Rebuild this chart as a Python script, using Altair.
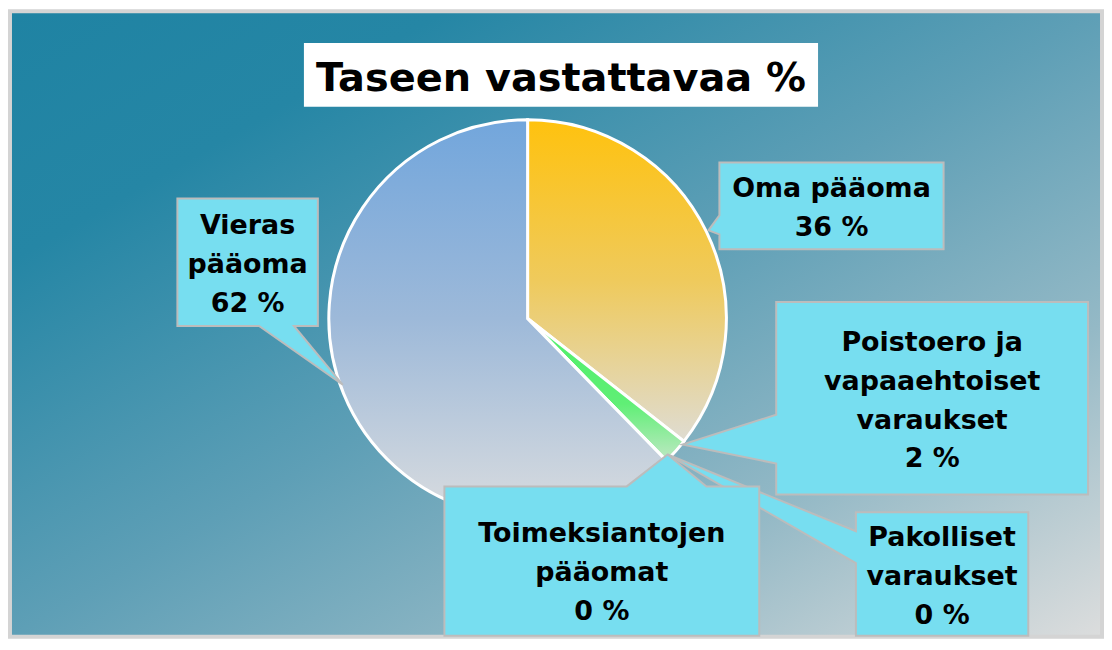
import altair as alt
import pandas as pd

# ---- data -------------------------------------------------------------
categories = ["Oma pääoma", "Poistoero ja vapaaehtoiset varaukset",
              "Pakolliset varaukset", "Toimeksiantojen pääomat", "Vieras pääoma"]
values = [35.6, 2.1, 0.0, 0.0, 62.3]
label_lines = [["Oma pääoma"],
               ["Poistoero ja", "vapaaehtoiset", "varaukset"],
               ["Pakolliset", "varaukset"],
               ["Toimeksiantojen", "pääomat"],
               ["Vieras", "pääoma"]]
title_text = "Taseen vastattavaa %"

# ---- layout (chart pixels) --------------------------------------------
W, H = 1096, 628
CX, CY, R = 519.5, 308.5, 199.5
FONT = "DejaVu Sans"
LINE_H = 39

# callout boxes: box (x0, y0, x1, y1), pointer side, base (a, b), tip (x, y)
callouts = {
    "Pakolliset varaukset": dict(box=(849, 503, 1022, 627), side="left", base=(522, 554), tip=(660, 445)),
    "Toimeksiantojen pääomat": dict(box=(436, 477, 752, 627), side="top", base=(619, 699), tip=(660, 445)),
    "Poistoero ja vapaaehtoiset varaukset": dict(box=(769, 292, 1082, 485), side="left", base=(405, 454), tip=(675, 435)),
    "Oma pääoma": dict(box=(712, 152, 937, 239), side="left", base=(205, 224), tip=(701, 220)),
    "Vieras pääoma": dict(box=(168, 188, 309, 316), side="bottom", base=(250, 285), tip=(334, 375)),
}
text_centers = {
    "Toimeksiantojen pääomat": (594, 561),
}


def callout_path(c):
    x0, y0, x1, y1 = c["box"]
    a, b = c["base"]
    tx, ty = c["tip"]
    if c["side"] == "left":
        pts = [(x0, y0), (x1, y0), (x1, y1), (x0, y1), (x0, b), (tx, ty), (x0, a)]
    elif c["side"] == "top":
        pts = [(x0, y0), (a, y0), (tx, ty), (b, y0), (x1, y0), (x1, y1), (x0, y1)]
    else:  # bottom
        pts = [(x0, y0), (x1, y0), (x1, y1), (b, y1), (tx, ty), (a, y1), (x0, y1)]
    return "M" + " L".join(f"{x},{y}" for x, y in pts) + " Z"


pie_df = pd.DataFrame({"category": categories, "value": values,
                       "order": list(range(len(categories)))})

rows = []
for cat, val, lines in zip(categories, values, label_lines):
    c = callouts[cat]
    x0, y0, x1, y1 = c["box"]
    all_lines = lines + [f"{round(val)} %"]
    cx, cy = text_centers.get(cat, ((x0 + x1) / 2, (y0 + y1) / 2))
    first_y = cy - (len(all_lines) - 1) * LINE_H / 2 + 3
    rows.append(dict(category=cat, path=callout_path(c),
                     label="\n".join(all_lines), tx=cx, ty=first_y))
callout_df = pd.DataFrame(rows).set_index("category").loc[list(callouts.keys())].reset_index()


def grad(stops, x2=0, y2=1):
    return alt.Gradient(gradient="linear",
                        stops=[alt.GradientStop(color=c, offset=o) for o, c in stops],
                        x1=0, y1=0, x2=x2, y2=y2)


green = grad([(0, "#4cef68"), (0.6, "#60ef76"), (1, "#bfe8c4")])
slice_fills = {
    "Oma pääoma": grad([(0, "#ffc20e"), (0.5, "#efca5c"), (1, "#dfdcd2")]),
    "Poistoero ja vapaaehtoiset varaukset": green,
    "Pakolliset varaukset": green,
    "Toimeksiantojen pääomat": green,
    "Vieras pääoma": grad([(0, "#72a6dc"), (0.5, "#9db9d9"), (1, "#d9dcdf")]),
}

one_row = alt.Data(values=[{"k": 1}])

background = alt.Chart(one_row).mark_rect(
    fill=grad([(0, "#1f83a3"), (0.2, "#2586a5"), (0.5, "#5e9fb6"),
               (0.75, "#94b9c6"), (1, "#dcdddd")], x2=1, y2=1),
    stroke="#d4d4d4", strokeWidth=4,
).encode(x=alt.value(0), x2=alt.value(W), y=alt.value(0), y2=alt.value(H))

title_box = alt.Chart(one_row).mark_rect(fill="white").encode(
    x=alt.value(295), x2=alt.value(811), y=alt.value(32), y2=alt.value(96))

title = alt.Chart(alt.Data(values=[{"t": title_text}])).mark_text(
    font=FONT, fontSize=40, fontWeight="bold", color="black",
    align="center", baseline="alphabetic",
).encode(x=alt.value(553), y=alt.value(80), text="t:N")

base_pie = alt.Chart(pie_df).transform_window(
    end="sum(value)", sort=[alt.SortField("order")], frame=[None, 0]
).transform_calculate(start="datum.end - datum.value")

theta_scale = alt.Scale(domain=[0, 100], range=[0, 6.283185307179586])

slices = []
for cat in categories:
    slices.append(
        base_pie.transform_filter(alt.datum.category == cat).mark_arc(
            radius=R, fill=slice_fills[cat], stroke="white", strokeWidth=3,
        ).encode(
            theta=alt.Theta("start:Q", stack=None, scale=theta_scale),
            theta2="end:Q",
            x=alt.value(CX), y=alt.value(CY),
        )
    )

callout_shapes = alt.Chart(callout_df).mark_point(
    filled=True, fill="#77def0", stroke="#bcbcbc", strokeWidth=2,
    size=4, opacity=1,
).encode(
    x=alt.value(0), y=alt.value(0),
    shape=alt.Shape("path:N", scale=None, legend=None),
)

callout_text = alt.Chart(callout_df).mark_text(
    font=FONT, fontSize=27, fontWeight="bold", color="black",
    align="center", baseline="middle", lineBreak="\n", lineHeight=LINE_H,
).encode(x=alt.X("tx:Q", scale=None), y=alt.Y("ty:Q", scale=None), text="label:N")

chart = alt.layer(
    background, *slices, callout_shapes, callout_text, title_box, title
).properties(width=W, height=H, padding=0).configure_view(strokeWidth=0)

chart.save("out.html", embed_options={"renderer": "svg", "actions": False})
